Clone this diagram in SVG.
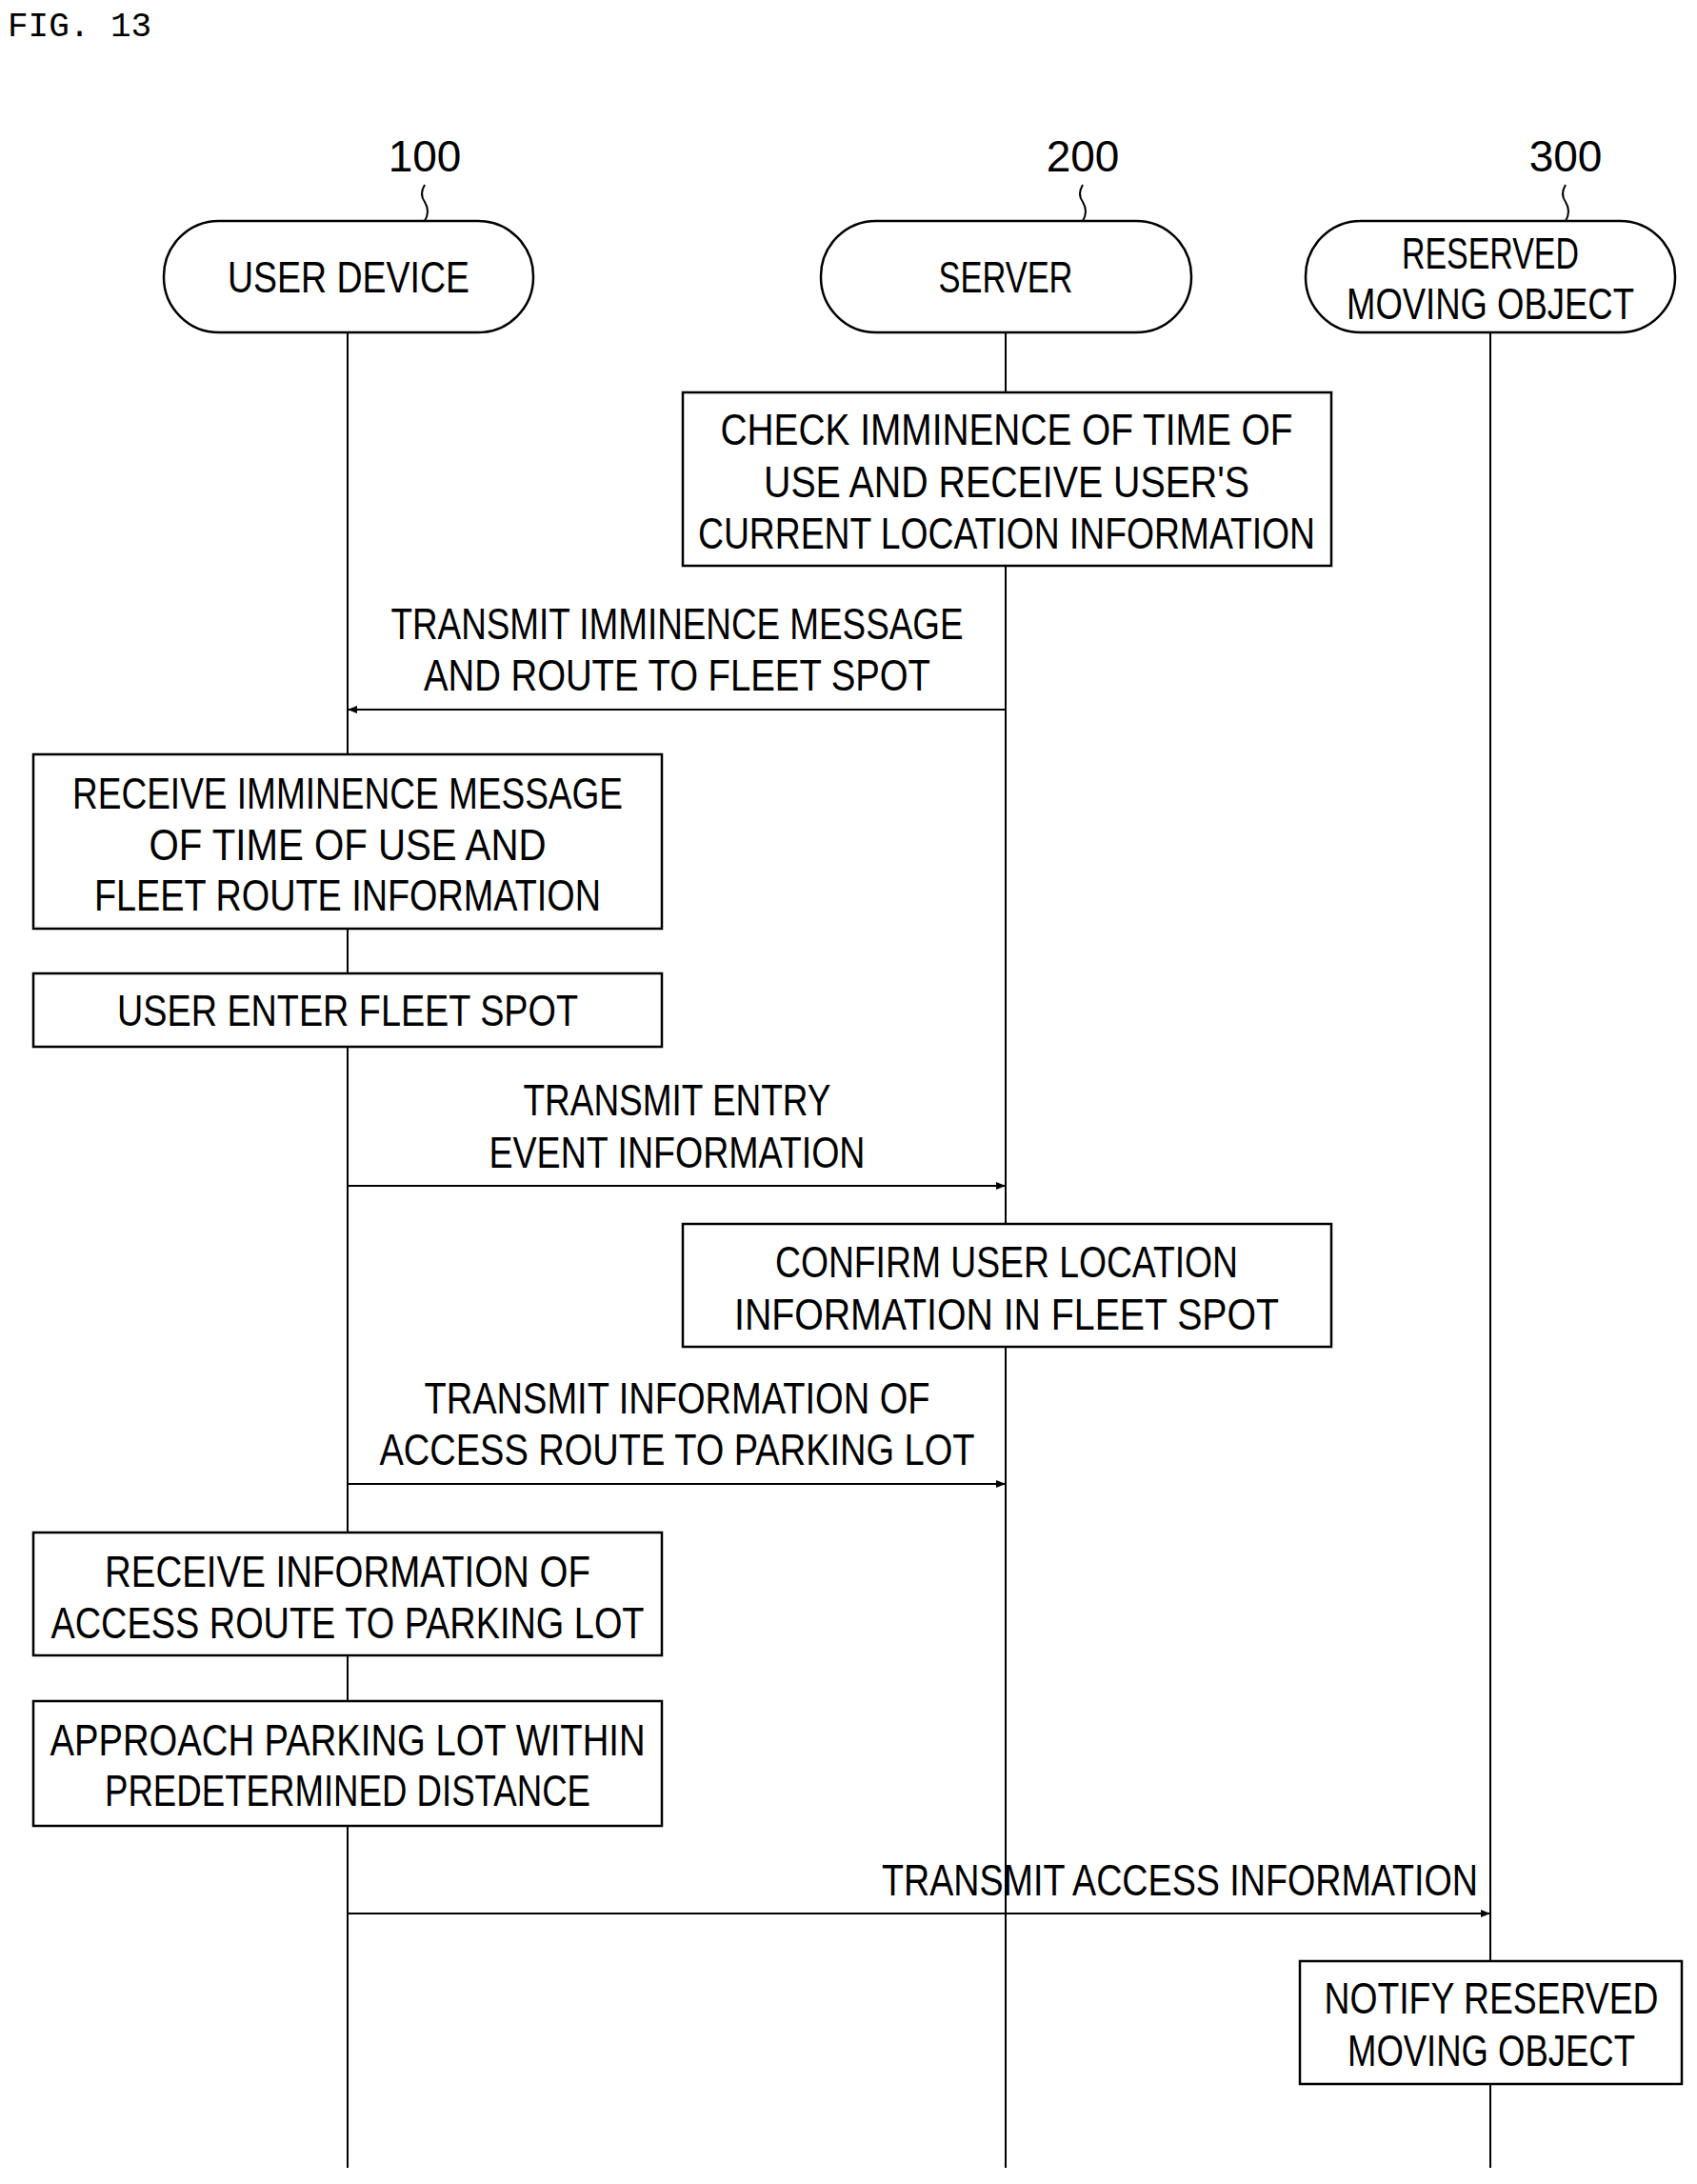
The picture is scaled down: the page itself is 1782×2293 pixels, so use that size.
<svg xmlns="http://www.w3.org/2000/svg" width="1782" height="2293" viewBox="0 0 1782 2293">
<style>
text{font-family:"Liberation Sans",Arial,sans-serif;font-size:46px;fill:#000;text-anchor:middle}
.fig{font-family:"Liberation Mono",monospace;font-size:36px;text-anchor:start}
.b{fill:#fff;stroke:#000;stroke-width:2.5}
.l{stroke:#000;stroke-width:2;fill:none}
</style>
<defs><marker id="a" viewBox="0 0 10 10" refX="10" refY="5" markerWidth="22" markerHeight="10" markerUnits="userSpaceOnUse" orient="auto"><path d="M0,1L10,5L0,9z" fill="#000"/></marker></defs>
<text class="fig" x="8" y="38">FIG. 13</text>
<g id="lifelines">
<line class="l" x1="365" y1="349" x2="365" y2="2276"/>
<line class="l" x1="1056" y1="349" x2="1056" y2="2276"/>
<line class="l" x1="1565" y1="349" x2="1565" y2="2276"/>
</g>
<g id="n100"><text x="446" y="180">100</text><path class="l" d="M446,194 q-6,10 0,18 q6,10 0,20"/>
<rect class="b" x="172" y="232" width="388" height="117" rx="58"/><text x="366" y="307" textLength="254" lengthAdjust="spacingAndGlyphs">USER DEVICE</text></g>
<g id="n200"><text x="1137" y="180">200</text><path class="l" d="M1137,194 q-6,10 0,18 q6,10 0,20"/>
<rect class="b" x="862" y="232" width="389" height="117" rx="58"/><text x="1056" y="307" textLength="141" lengthAdjust="spacingAndGlyphs">SERVER</text></g>
<g id="n300"><text x="1644" y="180">300</text><path class="l" d="M1644,194 q-6,10 0,18 q6,10 0,20"/>
<rect class="b" x="1371" y="232" width="388" height="117" rx="58"/><text x="1565" y="282" textLength="186" lengthAdjust="spacingAndGlyphs">RESERVED</text><text x="1565" y="335" textLength="302" lengthAdjust="spacingAndGlyphs">MOVING OBJECT</text></g>
<g id="b1"><rect class="b" x="717" y="412" width="681" height="182"/>
<text x="1057" y="467" textLength="601" lengthAdjust="spacingAndGlyphs">CHECK IMMINENCE OF TIME OF</text>
<text x="1057" y="522" textLength="510" lengthAdjust="spacingAndGlyphs">USE AND RECEIVE USER'S</text>
<text x="1057" y="576" textLength="648" lengthAdjust="spacingAndGlyphs">CURRENT LOCATION INFORMATION</text></g>
<g id="b2"><rect class="b" x="35" y="792" width="660" height="183"/>
<text x="365" y="849" textLength="578" lengthAdjust="spacingAndGlyphs">RECEIVE IMMINENCE MESSAGE</text>
<text x="365" y="903" textLength="417" lengthAdjust="spacingAndGlyphs">OF TIME OF USE AND</text>
<text x="365" y="956" textLength="532" lengthAdjust="spacingAndGlyphs">FLEET ROUTE INFORMATION</text></g>
<g id="b3"><rect class="b" x="35" y="1022" width="660" height="77"/>
<text x="365" y="1077" textLength="484" lengthAdjust="spacingAndGlyphs">USER ENTER FLEET SPOT</text></g>
<g id="b4"><rect class="b" x="717" y="1285" width="681" height="129"/>
<text x="1057" y="1341" textLength="486" lengthAdjust="spacingAndGlyphs">CONFIRM USER LOCATION</text>
<text x="1057" y="1396" textLength="572" lengthAdjust="spacingAndGlyphs">INFORMATION IN FLEET SPOT</text></g>
<g id="b5"><rect class="b" x="35" y="1609" width="660" height="129"/>
<text x="365" y="1666" textLength="510" lengthAdjust="spacingAndGlyphs">RECEIVE INFORMATION OF</text>
<text x="365" y="1720" textLength="623" lengthAdjust="spacingAndGlyphs">ACCESS ROUTE TO PARKING LOT</text></g>
<g id="b6"><rect class="b" x="35" y="1786" width="660" height="131"/>
<text x="365" y="1843" textLength="625" lengthAdjust="spacingAndGlyphs">APPROACH PARKING LOT WITHIN</text>
<text x="365" y="1896" textLength="510" lengthAdjust="spacingAndGlyphs">PREDETERMINED DISTANCE</text></g>
<g id="b7"><rect class="b" x="1365" y="2059" width="401" height="129"/>
<text x="1566" y="2114" textLength="351" lengthAdjust="spacingAndGlyphs">NOTIFY RESERVED</text>
<text x="1566" y="2169" textLength="302" lengthAdjust="spacingAndGlyphs">MOVING OBJECT</text></g>
<g id="connectors">
<line class="l" x1="1056" y1="745" x2="365" y2="745" marker-end="url(#a)"/>
<text x="711" y="671" textLength="601" lengthAdjust="spacingAndGlyphs">TRANSMIT IMMINENCE MESSAGE</text>
<text x="711" y="725" textLength="532" lengthAdjust="spacingAndGlyphs">AND ROUTE TO FLEET SPOT</text>
<line class="l" x1="365" y1="1245" x2="1056" y2="1245" marker-end="url(#a)"/>
<text x="711" y="1171" textLength="323" lengthAdjust="spacingAndGlyphs">TRANSMIT ENTRY</text>
<text x="711" y="1226" textLength="395" lengthAdjust="spacingAndGlyphs">EVENT INFORMATION</text>
<line class="l" x1="365" y1="1558" x2="1056" y2="1558" marker-end="url(#a)"/>
<text x="711" y="1484" textLength="531" lengthAdjust="spacingAndGlyphs">TRANSMIT INFORMATION OF</text>
<text x="711" y="1538" textLength="625" lengthAdjust="spacingAndGlyphs">ACCESS ROUTE TO PARKING LOT</text>
<line class="l" x1="365" y1="2009" x2="1565" y2="2009" marker-end="url(#a)"/>
<text x="1239" y="1990" textLength="626" lengthAdjust="spacingAndGlyphs">TRANSMIT ACCESS INFORMATION</text>
</g>
</svg>
